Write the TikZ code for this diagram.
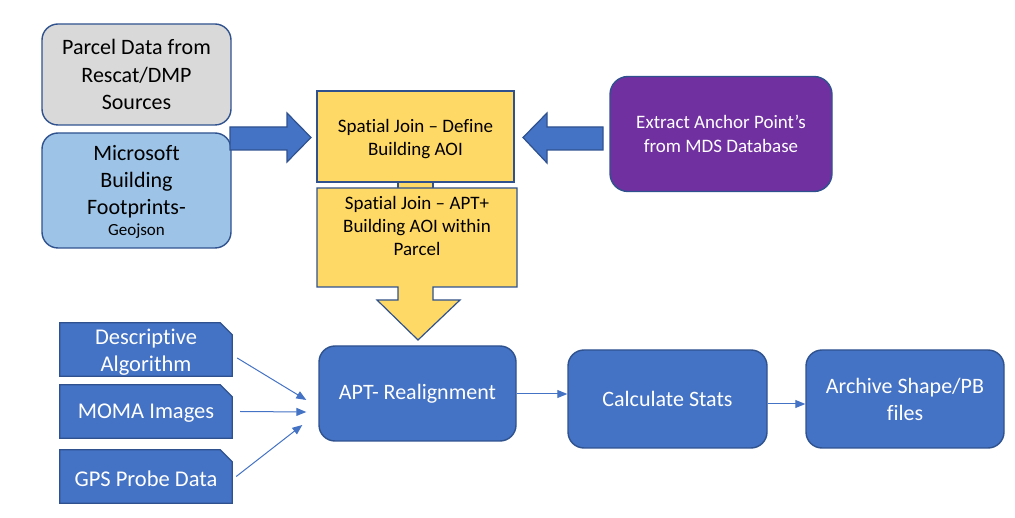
\documentclass[tikz,border=0pt]{standalone}
\usepackage{fontspec}
\setmainfont{Carlito}[RawFeature={-liga}]
\usetikzlibrary{arrows.meta}
\definecolor{bord}{HTML}{2F528F}
\definecolor{grayf}{HTML}{D9D9D9}
\definecolor{lblue}{HTML}{9DC3E6}
\definecolor{yel}{HTML}{FFD966}
\definecolor{purp}{HTML}{7030A0}
\definecolor{blu}{HTML}{4472C4}
\tikzset{
  rbox/.style={draw=bord, line width=1.4pt, rounded corners=16pt, inner sep=0pt, align=center},
  snipbox/.style={inner sep=0pt, align=center, text=white, minimum width=172pt, minimum height=53pt, font=\fontsize{22.5}{27}\selectfont},
  snipdraw/.style={draw=bord, fill=blu, line width=1.2pt},
  bluebox/.style={rbox, fill=blu, text=white, minimum width=198pt, font=\fontsize{22}{27}\selectfont},
  bigarrow/.style={draw=bord, fill=blu, line width=1.2pt},
  yelshape/.style={draw=bord, fill=yel, line width=1.2pt},
  thin/.style={draw=blu, line width=1pt, -{Triangle[length=10pt,width=8pt]}},
  ytext/.style={inner sep=0pt, align=center, font=\fontsize{19}{23}\selectfont}
}
\begin{document}
\begin{tikzpicture}[x=1pt,y=-1pt]
\useasboundingbox (0,0) rectangle (1015,518);
% top-left source boxes
\node[rbox, fill=grayf, minimum width=189pt, minimum height=101pt, font=\fontsize{22}{27.5}\selectfont] (parcel) at (136.5,74.5) {Parcel Data from\\Rescat/DMP\\Sources};
\node[rbox, fill=lblue, minimum width=189pt, minimum height=115pt] (ms) at (136.5,190.5) {};
\node[inner sep=0pt, align=center, font=\fontsize{22}{27}\selectfont] (mstext) at (136.5,182) {Microsoft\\Building\\Footprints-};
\node[inner sep=0pt, font=\fontsize{17}{19}\selectfont] (geo) at (136.5,231) {Geojson};
% yellow boxes
\draw[yelshape] (398,178) rectangle (433,192);
\node[yelshape, minimum width=197pt, minimum height=91pt, inner sep=0pt] (y1) at (415.5,136.5) {};
\node[ytext] (y1t) at (415.5,139) {Spatial Join – Define\\Building AOI};
\draw[yelshape] (317,188) -- (517,188) -- (517,287) -- (433,287) -- (433,300) -- (460,300)
  -- (418,340) -- (377,300) -- (398,300) -- (398,287) -- (317,287) -- cycle;
\node[ytext] (y2t) at (417,226) {Spatial Join – APT+\\Building AOI within\\Parcel};
% purple box
\node[rbox, fill=purp, text=white, rounded corners=18pt, minimum width=222pt, minimum height=115pt, font=\fontsize{19}{24}\selectfont] (purple) at (721,134) {Extract Anchor Point’s\\from MDS Database};
% big arrows
\draw[bigarrow] (230,127) -- (287,127) -- (287,113) -- (311,137.5) -- (287,162) -- (287,150) -- (230,150) -- cycle;
\draw[bigarrow] (603,127) -- (547,127) -- (547,113) -- (523,137.5) -- (547,163) -- (547,150) -- (603,150) -- cycle;
% snipped input boxes
\foreach \n/\cy in {desc/349.5, moma/411.5, gps/476.5} {
  \node[snipbox] (\n) at (146,\cy) {};
  \draw[snipdraw] (\n.south west) -- (\n.north west) -- ([xshift=-12pt]\n.north east) -- ([yshift=-12pt]\n.north east) -- (\n.south east) -- cycle;
}
\node[snipbox, minimum height=0pt] (desct) at (146,352) {Descriptive\\Algorithm};
\node[snipbox, minimum height=0pt] (momat) at (146,413) {MOMA Images};
\node[snipbox, minimum height=0pt] (gpst) at (146,479) {GPS Probe Data};
% process boxes
\node[bluebox, minimum width=197pt, minimum height=95pt] (apt) at (417.5,393.5) {APT- Realignment};
\node[bluebox, minimum width=199pt, minimum height=98pt] (calc) at (667.5,399) {Calculate Stats};
\node[bluebox, minimum width=198pt, minimum height=98pt] (arch) at (905,399) {Archive Shape/PB\\files};
% thin arrows
\draw[thin] ([shift={(5,8.5)}]desc.east) -- ([shift={(-12,6.5)}]apt.west);
\draw[thin] ([xshift=8pt]moma.east) -- ([shift={(-12,18.5)}]apt.west);
\draw[thin] ([xshift=4pt]gps.east) -- ([shift={(-16,31.5)}]apt.west);
\draw[thin] (apt.east |- 0,394) -- (calc.west |- 0,394);
\draw[thin] (calc.east |- 0,404) -- (arch.west |- 0,404);
\end{tikzpicture}
\end{document}
